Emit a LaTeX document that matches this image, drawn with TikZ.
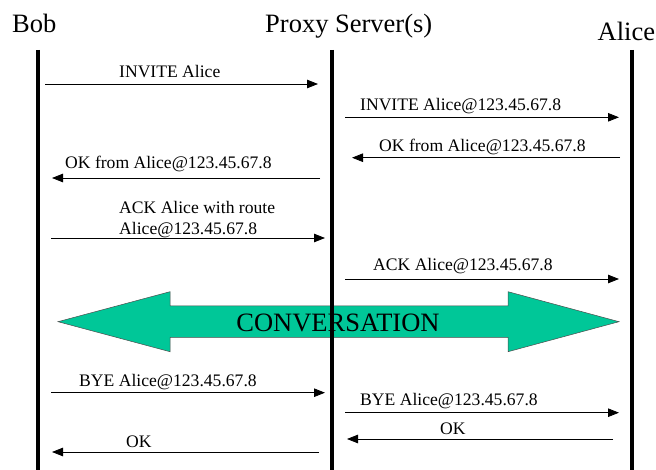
\documentclass[tikz,border=0pt]{standalone}
\usepackage{fontspec}
\setmainfont{Liberation Serif}
\usetikzlibrary{arrows.meta}
\definecolor{talkgreen}{RGB}{0,199,152}

\begin{document}
\begin{tikzpicture}
		[x=1pt,y=-1pt,
		 msg/.style={line width=0.8pt,-{Triangle[length=11pt,width=8.5pt]}},
		 lane/.style={line width=4.5pt},
		 head/.style={anchor=base west,inner sep=0pt,font=\fontsize{26.5}{30}\selectfont},
		 lbl/.style={anchor=base west,inner sep=0pt,align=left,font=\fontsize{17.6}{21}\selectfont}]
		\useasboundingbox (0,0) rectangle (656,470);

		% parties
		\node[head] (bob) at (12,32.5) {Bob};
		\node[head] (proxy) at (265,32.5) {Proxy Server(s)};
		\node[head] (alice) at (597.5,40.5) {Alice};

		% conversation arrow
		\draw[fill=talkgreen,draw=black!70,line width=0.5pt]
			(58,321.7) -- (170,291.7) -- (170,306) -- (508,306) -- (508,291.7) -- (619,321.7)
			-- (508,351.7) -- (508,337.3) -- (170,337.3) -- (170,351.7) -- cycle;

		% life lines
		\coordinate (b0) at (38,50);
		\coordinate (b1) at (38,470);
		\coordinate (p0) at (332,50);
		\coordinate (p1) at (332,470);
		\coordinate (a0) at (632,50);
		\coordinate (a1) at (632,470);
		\draw[lane] (b0) -- (b1);
		\draw[lane] (p0) -- (p1);
		\draw[lane] (a0) -- (a1);

		\node[inner sep=0pt,anchor=base,font=\fontsize{26.5}{30}\selectfont] (talk) at (338,331.7) {CONVERSATION};

		% messages
		\coordinate (m1s) at (45,84);      \coordinate (m1e) at (318,84);
		\coordinate (m2s) at (345,117.3);  \coordinate (m2e) at (619,117.3);
		\coordinate (m3s) at (620,157.7);  \coordinate (m3e) at (352,157.7);
		\coordinate (m4s) at (320,178);    \coordinate (m4e) at (52,178);
		\coordinate (m5s) at (51,238);     \coordinate (m5e) at (325,238);
		\coordinate (m6s) at (345,279);    \coordinate (m6e) at (619,279);
		\coordinate (m7s) at (51,392.7);   \coordinate (m7e) at (325,392.7);
		\coordinate (m8s) at (345,412.7);  \coordinate (m8e) at (619,412.7);
		\coordinate (m9s) at (613,439);    \coordinate (m9e) at (347,439);
		\coordinate (m10s) at (319,452);   \coordinate (m10e) at (52,452);

		\draw[msg] (m1s) -- (m1e);
		\draw[msg] (m2s) -- (m2e);
		\draw[msg] (m3s) -- (m3e);
		\draw[msg] (m4s) -- (m4e);
		\draw[msg] (m5s) -- (m5e);
		\draw[msg] (m6s) -- (m6e);
		\draw[msg] (m7s) -- (m7e);
		\draw[msg] (m8s) -- (m8e);
		\draw[msg] (m9s) -- (m9e);
		\draw[msg] (m10s) -- (m10e);

		\node[lbl] (l1) at (119,77.3) {INVITE Alice};
		\node[lbl] (l2) at (360,111) {INVITE Alice@123.45.67.8};
		\node[lbl] (l3) at (379,152) {OK from Alice@123.45.67.8};
		\node[lbl] (l4) at (65,168.3) {OK from Alice@123.45.67.8};
		\node[lbl] (l5a) at (119,213.3) {ACK Alice with route};
		\node[lbl] (l5b) at (119,234.3) {Alice@123.45.67.8};
		\node[lbl] (l6) at (373,271) {ACK Alice@123.45.67.8};
		\node[lbl] (l7) at (79,386) {BYE Alice@123.45.67.8};
		\node[lbl] (l8) at (360,405.6) {BYE Alice@123.45.67.8};
		\node[lbl] (l9) at (440,434) {OK};
		\node[lbl] (l10) at (126,447.6) {OK};

	\end{tikzpicture}
\end{document}
